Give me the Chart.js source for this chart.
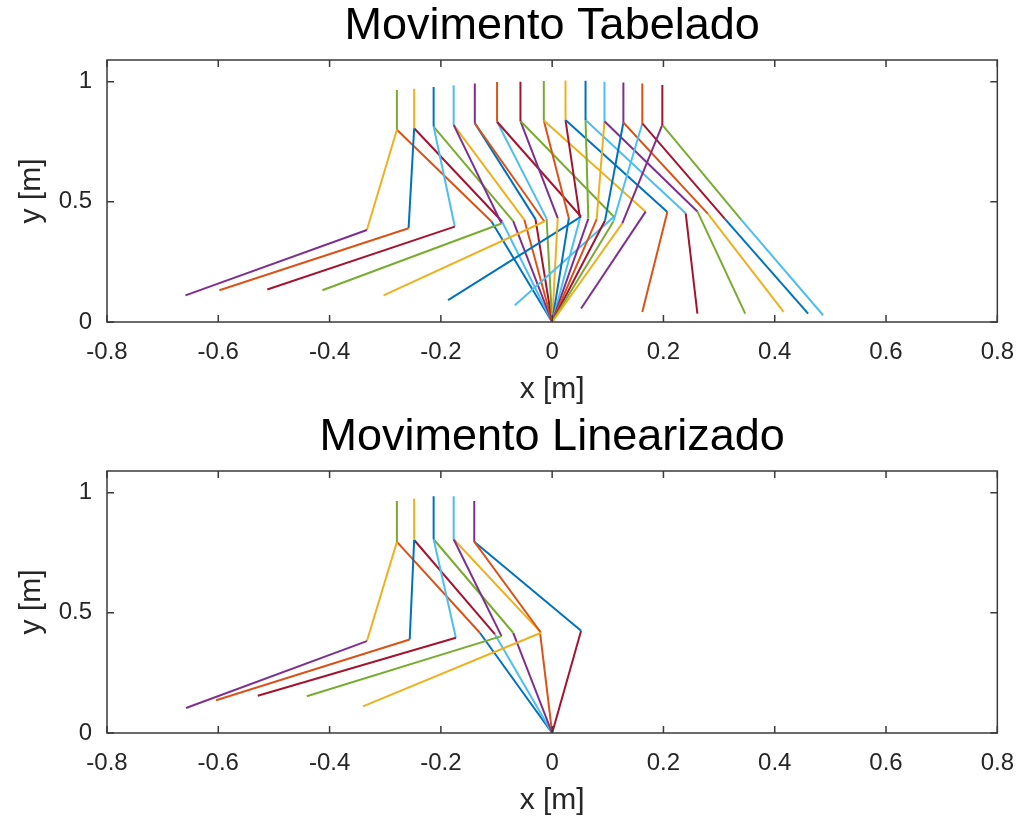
<!DOCTYPE html>
<html>
<head>
<meta charset="utf-8">
<script src="https://cdn.jsdelivr.net/npm/chart.js@4/dist/chart.umd.min.js"></script>
<style>
  body { margin: 0; background: #fff; }
  .panel { position: absolute; left: 0; }
</style>
</head>
<body>
<canvas id="chartTab" class="panel" width="1030" height="411" style="top:0"></canvas>
<canvas id="chartLin" class="panel" width="1030" height="411" style="top:411px"></canvas>
<script>
// axes
const xTicks = [-0.8, -0.6, -0.4, -0.2, 0, 0.2, 0.4, 0.6, 0.8];
const yTicks = [0, 0.5, 1];
const stanceFoot = [0, 0];

// MATLAB default line colours, cycled per plot call
const lineColors = ["#0072BD", "#D95319", "#EDB120", "#7E2F8E", "#77AC30", "#4DBEEE", "#A2142F"];

// "Movimento Tabelado" - 14 frames
const tabHipX = [-0.279, -0.248, -0.213, -0.177, -0.139, -0.099, -0.057, -0.015, 0.024, 0.060, 0.094, 0.128, 0.162, 0.198];
const tabHipY = [0.800, 0.806, 0.813, 0.820, 0.827, 0.833, 0.836, 0.838, 0.840, 0.840, 0.835, 0.830, 0.826, 0.820];
const tabTopY = [0.965, 0.970, 0.978, 0.985, 0.992, 0.998, 1.000, 1.003, 1.005, 1.004, 1.000, 0.996, 0.992, 0.986];
const tabStanceKneeX = [-0.109, -0.090, -0.070, -0.050, -0.030, -0.010, 0.010, 0.030, 0.050, 0.065, 0.080, 0.095, 0.110, 0.126];
const tabStanceKneeY = [0.418, 0.418, 0.420, 0.425, 0.428, 0.430, 0.432, 0.432, 0.432, 0.430, 0.428, 0.422, 0.418, 0.410];
const tabSwingKneeX = [-0.333, -0.258, -0.175, -0.091, -0.014, 0.052, 0.111, 0.168, 0.207, 0.240, 0.261, 0.280, 0.310, 0.340];
const tabSwingKneeY = [0.383, 0.390, 0.397, 0.410, 0.418, 0.438, 0.438, 0.459, 0.458, 0.452, 0.460, 0.450, 0.430, 0.425];
const tabSwingFootX = [-0.659, -0.598, -0.512, -0.413, -0.303, -0.187, -0.067, 0.052, 0.162, 0.261, 0.347, 0.416, 0.460, 0.487];
const tabSwingFootY = [0.111, 0.132, 0.135, 0.132, 0.111, 0.091, 0.070, 0.056, 0.042, 0.035, 0.035, 0.042, 0.035, 0.028];

// "Movimento Linearizado" - 5 frames
const linHipX = [-0.279, -0.248, -0.213, -0.177, -0.140];
const linHipY = [0.795, 0.803, 0.806, 0.806, 0.796];
const linTopY = [0.965, 0.975, 0.985, 0.985, 0.965];
const linStanceKneeX = [-0.130, -0.103, -0.070, -0.022, 0.052];
const linStanceKneeY = [0.417, 0.411, 0.417, 0.423, 0.425];
const linSwingKneeX = [-0.333, -0.256, -0.173, -0.091, -0.020];
const linSwingKneeY = [0.382, 0.389, 0.396, 0.403, 0.417];
const linSwingFootX = [-0.658, -0.604, -0.529, -0.441, -0.340];
const linSwingFootY = [0.104, 0.136, 0.155, 0.153, 0.111];

const font = "'Liberation Sans', Arial, Helvetica, sans-serif";

// each frame = 5 plot calls: stance shin, stance thigh, swing thigh, swing shin, torso
function buildDatasets(hipX, hipY, topY, skX, skY, wkX, wkY, wfX, wfY) {
  const datasets = [];
  let call = 0;
  for (let k = 0; k < hipX.length; k++) {
    const foot = { x: stanceFoot[0], y: stanceFoot[1] };
    const knee = { x: skX[k], y: skY[k] };
    const hip = { x: hipX[k], y: hipY[k] };
    const swingKnee = { x: wkX[k], y: wkY[k] };
    const swingFoot = { x: wfX[k], y: wfY[k] };
    const top = { x: hipX[k], y: topY[k] };
    const segments = [[foot, knee], [knee, hip], [hip, swingKnee], [swingKnee, swingFoot], [hip, top]];
    segments.forEach((seg) => {
      datasets.push({
        data: seg,
        showLine: true,
        borderColor: lineColors[call % lineColors.length],
        borderWidth: 2,
        pointRadius: 0,
        order: -call, // later calls on top like in MATLAB
      });
      call++;
    });
  }
  return datasets;
}

// box with inward ticks on all sides + title centred over the axes
const axesBox = {
  id: "axesBox",
  afterDraw(chart, args, opts) {
    const { ctx, chartArea: a, scales } = chart;
    const tl = 7;
    ctx.save();
    ctx.strokeStyle = "#3a3a3a";
    ctx.lineWidth = 1.5;
    ctx.strokeRect(a.left, a.top, a.right - a.left, a.bottom - a.top);
    ctx.beginPath();
    scales.x.ticks.forEach((t) => {
      const px = scales.x.getPixelForValue(t.value);
      ctx.moveTo(px, a.bottom); ctx.lineTo(px, a.bottom - tl);
      ctx.moveTo(px, a.top); ctx.lineTo(px, a.top + tl);
    });
    scales.y.ticks.forEach((t) => {
      const py = scales.y.getPixelForValue(t.value);
      ctx.moveTo(a.left, py); ctx.lineTo(a.left + tl, py);
      ctx.moveTo(a.right, py); ctx.lineTo(a.right - tl, py);
    });
    ctx.stroke();

    ctx.fillStyle = "#000";
    ctx.font = "45px " + font;
    ctx.textAlign = "center";
    ctx.textBaseline = "alphabetic";
    ctx.fillText(opts.text, (a.left + a.right) / 2, a.top - 21);
    ctx.restore();
  },
};

function formatTick(v) {
  return String(Math.round(v * 10) / 10);
}

function makeChart(id, title, datasets) {
  new Chart(document.getElementById(id), {
    type: "scatter",
    data: { datasets: datasets },
    options: {
      responsive: false,
      animation: false,
      events: [],
      layout: { padding: { left: 0, right: 27, top: 60, bottom: 0 } },
      plugins: {
        legend: { display: false },
        tooltip: { enabled: false },
        title: { display: false },
        axesBox: { text: title },
      },
      scales: {
        x: {
          type: "linear",
          min: -0.8,
          max: 0.8,
          grid: { display: false, drawTicks: false },
          border: { display: false },
          afterBuildTicks: (s) => { s.ticks = xTicks.map((v) => ({ value: v })); },
          afterFit: (s) => { s.height = 89; },
          ticks: {
            color: "#262626",
            padding: 16,
            maxRotation: 0,
            font: { family: font, size: 24 },
            callback: (v) => formatTick(v),
          },
          title: {
            display: true,
            text: "x [m]",
            color: "#262626",
            font: { family: font, size: 30 },
            padding: { top: 0, bottom: 3 },
          },
        },
        y: {
          type: "linear",
          min: 0,
          max: 1.09,
          grid: { display: false, drawTicks: false },
          border: { display: false },
          afterBuildTicks: (s) => { s.ticks = yTicks.map((v) => ({ value: v })); },
          afterFit: (s) => { s.width = 107; },
          ticks: {
            color: "#262626",
            padding: 15,
            font: { family: font, size: 24 },
            callback: (v) => formatTick(v),
          },
          title: {
            display: true,
            text: "y [m]",
            color: "#262626",
            font: { family: font, size: 30 },
            padding: { top: 14, bottom: 0 },
          },
        },
      },
    },
    plugins: [axesBox],
  });
}

makeChart("chartTab", "Movimento Tabelado",
  buildDatasets(tabHipX, tabHipY, tabTopY, tabStanceKneeX, tabStanceKneeY,
    tabSwingKneeX, tabSwingKneeY, tabSwingFootX, tabSwingFootY));

makeChart("chartLin", "Movimento Linearizado",
  buildDatasets(linHipX, linHipY, linTopY, linStanceKneeX, linStanceKneeY,
    linSwingKneeX, linSwingKneeY, linSwingFootX, linSwingFootY));
</script>
</body>
</html>
